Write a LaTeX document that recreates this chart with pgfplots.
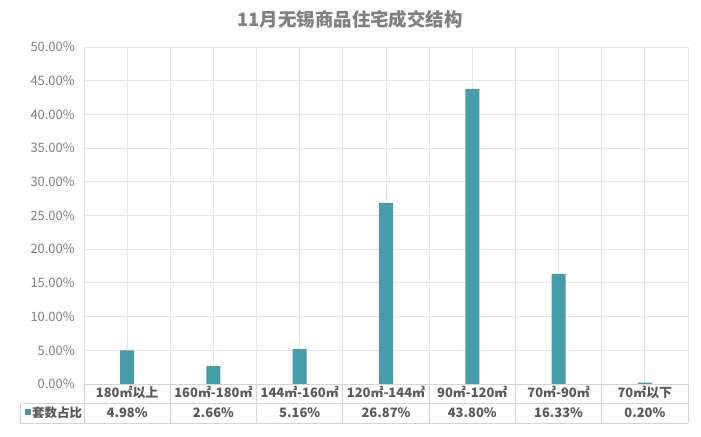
\documentclass[border=0pt]{standalone}
\usepackage{fontspec}
\setmainfont{Noto Sans CJK SC}
\usepackage{pgfplots}
\pgfplotsset{compat=1.18}

\definecolor{barcol}{HTML}{469DAA}
\definecolor{gridcol}{HTML}{E6E6E6}
\definecolor{linecol}{HTML}{D4D4D4}
\definecolor{ticktxt}{HTML}{7F7F7F}
\definecolor{tabtxt}{HTML}{595959}

\begin{document}
\begin{tikzpicture}[x=1bp,y=1bp]
\useasboundingbox (0,0) rectangle (701,437);
\fill[white] (0,0) rectangle (701,437);
\node[font=\fontsize{18.5}{20}\selectfont\bfseries, text=ticktxt] at (350,418) {11月无锡商品住宅成交结构};

\begin{axis}[
    at={(84bp,53bp)}, anchor=south west,
    scale only axis, width=604bp, height=337bp,
    xmin=0, xmax=7, ymin=0, ymax=50,
    axis line style={draw=none},
    major tick length=0, minor tick length=0,
    ytick={0,5,...,50},
    yticklabel={\pgfmathprintnumber[fixed,fixed zerofill,precision=2]{\tick}\%},
    /pgf/number format/assume math mode=true,
    y tick label style={font=\fontsize{13}{15}\selectfont, text=ticktxt, anchor=east, inner sep=0pt, xshift=-9bp},
    ymajorgrids, xmajorgrids, xminorgrids,
    grid style={gridcol, line width=0.8bp},
    minor grid style={gridcol, line width=0.8bp},
    xtick={0.5,1.5,...,6.5},
    minor xtick={0,1,...,7},
    xticklabels={180㎡以上, 160㎡-180㎡, 144㎡-160㎡, 120㎡-144㎡, 90㎡-120㎡, 70㎡-90㎡, 70㎡以下},
    x tick label style={font=\fontsize{13}{15}\selectfont\bfseries, text=tabtxt, anchor=base, yshift=-14bp},
    extra x ticks={0.5,1.5,...,6.5},
    extra x tick labels={4.98\%, 2.66\%, 5.16\%, 26.87\%, 43.80\%, 16.33\%, 0.20\%},
    extra x tick style={grid=none, x tick label style={yshift=-20bp}},
    ybar, bar width=14bp,
]
\addplot[fill=barcol, draw=none] coordinates {
    (0.5,4.98) (1.5,2.66) (2.5,5.16) (3.5,26.87) (4.5,43.80) (5.5,16.33) (6.5,0.20)
};
\end{axis}

% data table lines
\draw[linecol, line width=0.8bp] (84,53) -- (688,53);
\draw[linecol, line width=0.8bp] (20,34) -- (688,34);
\draw[linecol, line width=0.8bp] (20,14) -- (688,14);
\draw[linecol, line width=0.8bp] (20,34) -- (20,14);
\foreach \k in {0,...,7}
    \draw[linecol, line width=0.8bp] ({84+86.2857*\k},53) -- ({84+86.2857*\k},14);
\fill[barcol] (25,21.5) rectangle (31,27.5);
\node[anchor=base west, inner sep=0pt, font=\fontsize{12.5}{14}\selectfont\bfseries, text=tabtxt] at (32,19.5) {套数占比};
\end{tikzpicture}
\end{document}
